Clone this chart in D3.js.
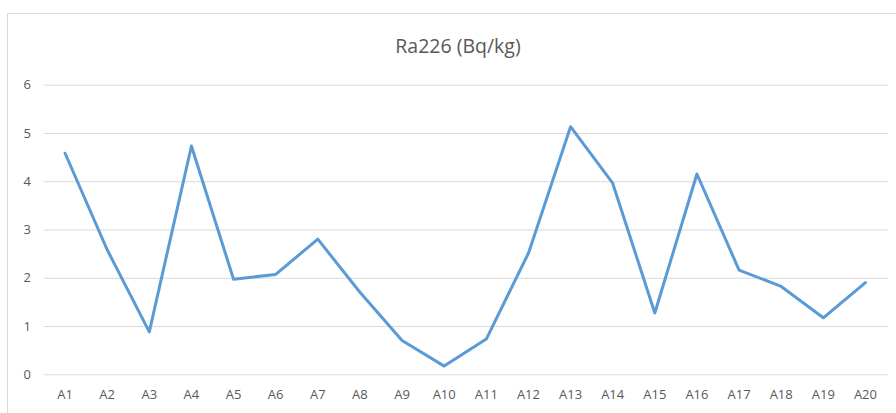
<html>
  <head>
    <title>Ra226 (Bq/kg)</title>
    <script type="text/javascript" src="https://cdn.jsdelivr.net/npm/d3@7/dist/d3.min.js" charset="utf-8"></script>
    <style>
      body { margin: 0; background: #fff; }
      text { font-family: "Open Sans", "Noto Sans", sans-serif; }
    </style>
  </head>
  <body>
    <div id="main"></div>
  <script>
    // chart size
    var svgWidth = 896;
    var svgHeight = 413;

    var categories = ["A1", "A2", "A3", "A4", "A5", "A6", "A7", "A8", "A9", "A10",
                      "A11", "A12", "A13", "A14", "A15", "A16", "A17", "A18", "A19", "A20"];
    var values = [4.58, 2.58, 0.88, 4.73, 1.97, 2.07, 2.80, 1.70, 0.70, 0.17,
                  0.73, 2.51, 5.13, 3.96, 1.27, 4.15, 2.16, 1.82, 1.17, 1.90];
    var yTicks = [0, 1, 2, 3, 4, 5, 6];
    var title = "Ra226 (Bq/kg)";

    var plot = { left: 44, right: 886.5, top: 84.7, bottom: 374.3 };

    var svg = d3.select("#main")
      .append("svg")
      .attr("width", svgWidth)
      .attr("height", svgHeight);

    // chart area border (right/bottom edges fall outside the picture)
    svg.append("rect")
      .attr("x", 7.5).attr("y", 13.5)
      .attr("width", 1000).attr("height", 1000)
      .style("fill", "#fff")
      .style("stroke", "#d9d9d9")
      .style("stroke-width", 1);

    var x = d3.scaleBand()
      .domain(categories)
      .range([plot.left, plot.right]);

    var y = d3.scaleLinear()
      .domain([0, 6])
      .range([plot.bottom, plot.top]);

    // horizontal gridlines + y labels
    var yAxis = svg.append("g")
      .attr("transform", "translate(" + plot.left + ",0)")
      .call(d3.axisLeft(y).tickValues(yTicks).tickSize(-(plot.right - plot.left + 2)).tickPadding(13).tickFormat(d3.format("d")));
    yAxis.select(".domain").remove();
    yAxis.selectAll("line").style("stroke", "#d9d9d9");
    yAxis.selectAll("text")
      .style("fill", "#595959")
      .style("font-size", "13px");

    // x labels
    var xAxis = svg.append("g")
      .attr("transform", "translate(0," + plot.bottom + ")")
      .call(d3.axisBottom(x).tickSize(0).tickPadding(15));
    xAxis.select(".domain").remove();
    xAxis.selectAll("text")
      .style("fill", "#595959")
      .style("font-size", "13px");

    var line = d3.line()
      .x(function(d, i) { return x(categories[i]) + x.bandwidth() / 2; })
      .y(function(d) { return y(d); });

    svg.append("path")
      .datum(values)
      .attr("d", line)
      .style("fill", "none")
      .style("stroke", "#5b9bd5")
      .style("stroke-width", 3)
      .style("stroke-linejoin", "round")
      .style("stroke-linecap", "round");

    svg.append("text")
      .attr("x", 458)
      .attr("y", 53)
      .attr("text-anchor", "middle")
      .style("fill", "#595959")
      .style("font-size", "19.5px")
      .text(title);
  </script>
  </body>
</html>
